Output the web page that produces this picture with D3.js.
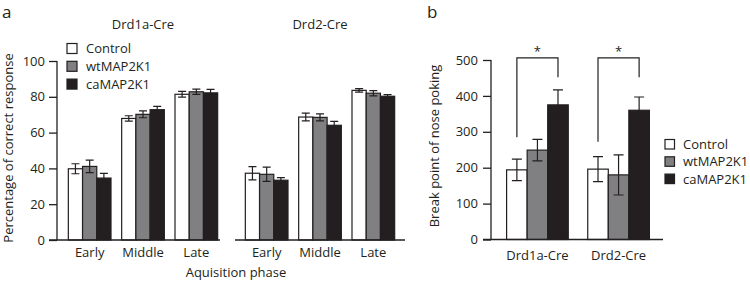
<!DOCTYPE html>
<html>
<head>
<meta charset="utf-8">
<script src="https://cdn.jsdelivr.net/npm/d3@7"></script>
<style>
  body { margin: 0; background: #fff; }
  svg text { font-family: "Open Sans", sans-serif; fill: #231f20; }
</style>
</head>
<body>
<div id="chart"></div>
<script>
// data
const phases = ["Early", "Middle", "Late"];
const groups = ["Control", "wtMAP2K1", "caMAP2K1"];
const drd1aMeans = [[39.8, 41.1, 34.6], [67.9, 70.2, 72.8], [81.4, 82.8, 82.2]];
const drd1aErrs = [[2.8, 3.5, 2.6], [1.5, 1.9, 1.9], [1.6, 1.5, 1.9]];
const drd2Means = [[37.3, 36.7, 33.4], [68.7, 68.5, 64.1], [83.6, 82.0, 80.3]];
const drd2Errs = [[3.7, 4.0, 1.4], [2.2, 2.0, 2.2], [1.0, 1.5, 0.9]];
const yTicksA = [0, 20, 40, 60, 80, 100];

const strains = ["Drd1a-Cre", "Drd2-Cre"];
const breakMeans = [[194, 249, 375], [196, 180, 360]];
const breakErrs = [[30, 30, 42], [35, 56, 37]];
const yTicksB = [0, 100, 200, 300, 400, 500];
// significance brackets: [strain, top, left leg end, right leg end]
const brackets = [["Drd1a-Cre", 506, 285, 452], ["Drd2-Cre", 506, 272, 452]];

const fills = ["#ffffff", "#808083", "#231f20"];
const ink = "#231f20";

const svg = d3.select("#chart").append("svg")
  .attr("width", 750).attr("height", 283);

const color = d3.scaleOrdinal().domain(groups).range(fills);

// ---------- panel a ----------
const yA = d3.scaleLinear().domain([0, 100]).range([240, 61]);
const axisXA = 57;

svg.append("g")
  .attr("transform", "translate(" + axisXA + ",0)")
  .call(d3.axisLeft(yA).tickValues(yTicksA).tickSize(8).tickPadding(4))
  .call(g => {
    g.select(".domain").attr("stroke", ink).attr("stroke-width", 1.3).attr("d", "M0," + yA(100) + "V" + yA(0));
    g.selectAll(".tick line").attr("stroke", ink).attr("stroke-width", 1.3);
    g.selectAll(".tick text").style("font-size", "13px").style("font-family", "Open Sans").attr("fill", ink);
  });

const subPanels = [
  { title: "Drd1a-Cre", means: drd1aMeans, errs: drd1aErrs, range: [63, 223], base: [axisXA - 8, 220] },
  { title: "Drd2-Cre", means: drd2Means, errs: drd2Errs, range: [240, 400], base: [235, 405] }
];

subPanels.forEach(p => {
  const x0 = d3.scaleBand().domain(phases).range(p.range).paddingInner(0.2).paddingOuter(0.1);
  const x1 = d3.scaleBand().domain(groups).range([0, x0.bandwidth()]);
  const g = svg.append("g");

  phases.forEach((ph, i) => {
    groups.forEach((gr, j) => {
      const m = p.means[i][j], e = p.errs[i][j];
      const cx = x0(ph) + x1(gr) + x1.bandwidth() / 2;
      g.append("rect")
        .attr("x", x0(ph) + x1(gr))
        .attr("y", yA(m))
        .attr("width", x1.bandwidth())
        .attr("height", yA(0) - yA(m))
        .attr("fill", color(gr))
        .attr("stroke", ink)
        .attr("stroke-width", 1.2);
      g.append("path")
        .attr("d", "M" + cx + "," + yA(m - e) + "V" + yA(m + e) +
          "M" + (cx - 4) + "," + yA(m + e) + "H" + (cx + 4) +
          "M" + (cx - 4) + "," + yA(m - e) + "H" + (cx + 4))
        .attr("stroke", ink).attr("stroke-width", 1.2).attr("fill", "none");
    });
  });

  g.append("line")
    .attr("x1", p.base[0]).attr("x2", p.base[1])
    .attr("y1", yA(0)).attr("y2", yA(0))
    .attr("stroke", ink).attr("stroke-width", 1.3);

  phases.forEach(ph => {
    g.append("text")
      .attr("x", x0(ph) + x0.bandwidth() / 2)
      .attr("y", 257)
      .attr("text-anchor", "middle")
      .style("font-size", "13px")
      .text(ph);
  });

  g.append("text")
    .attr("x", (p.range[0] + p.range[1]) / 2)
    .attr("y", 29)
    .attr("text-anchor", "middle")
    .style("font-size", "13px")
    .text(p.title);
});

svg.append("text")
  .attr("transform", "translate(13,148) rotate(-90)")
  .attr("text-anchor", "middle")
  .style("font-size", "13px")
  .text("Percentage of correct response");

svg.append("text")
  .attr("x", 236).attr("y", 277)
  .attr("text-anchor", "middle")
  .style("font-size", "13px")
  .text("Aquisition phase");

svg.append("text").attr("x", 2).attr("y", 18).style("font-size", "17px").text("a");

// legend a
groups.forEach((gr, j) => {
  const ly = 43.5 + j * 17.8;
  svg.append("rect")
    .attr("x", 67).attr("y", ly).attr("width", 10).attr("height", 10)
    .attr("fill", color(gr)).attr("stroke", ink).attr("stroke-width", 1.2);
  svg.append("text")
    .attr("x", 86).attr("y", ly + 9.5)
    .style("font-size", "13px")
    .text(gr);
});

// ---------- panel b ----------
const yB = d3.scaleLinear().domain([0, 500]).range([239.5, 60]);
const axisXB = 491;
const xb0 = d3.scaleBand().domain(strains).range([492, 664]).paddingInner(0.24).paddingOuter(0.18);
const xb1 = d3.scaleBand().domain(groups).range([0, xb0.bandwidth()]);

svg.append("g")
  .attr("transform", "translate(" + axisXB + ",0)")
  .call(d3.axisLeft(yB).tickValues(yTicksB).tickSize(8).tickPadding(5))
  .call(g => {
    g.select(".domain").attr("stroke", ink).attr("stroke-width", 1.3).attr("d", "M0," + yB(500) + "V" + yB(0));
    g.selectAll(".tick line").attr("stroke", ink).attr("stroke-width", 1.3);
    g.selectAll(".tick text").style("font-size", "13px").style("font-family", "Open Sans").attr("fill", ink);
  });

strains.forEach((s, i) => {
  groups.forEach((gr, j) => {
    const m = breakMeans[i][j], e = breakErrs[i][j];
    const cx = xb0(s) + xb1(gr) + xb1.bandwidth() / 2;
    svg.append("rect")
      .attr("x", xb0(s) + xb1(gr))
      .attr("y", yB(m))
      .attr("width", xb1.bandwidth())
      .attr("height", yB(0) - yB(m))
      .attr("fill", color(gr))
      .attr("stroke", ink)
      .attr("stroke-width", 1.2);
    svg.append("path")
      .attr("d", "M" + cx + "," + yB(m - e) + "V" + yB(m + e) +
        "M" + (cx - 5) + "," + yB(m + e) + "H" + (cx + 5) +
        "M" + (cx - 5) + "," + yB(m - e) + "H" + (cx + 5))
      .attr("stroke", ink).attr("stroke-width", 1.2).attr("fill", "none");
  });
  svg.append("text")
    .attr("x", xb0(s) + xb0.bandwidth() / 2)
    .attr("y", 260)
    .attr("text-anchor", "middle")
    .style("font-size", "13px")
    .text(s);
});

svg.append("line")
  .attr("x1", axisXB - 8).attr("x2", 663)
  .attr("y1", yB(0)).attr("y2", yB(0))
  .attr("stroke", ink).attr("stroke-width", 1.3);

brackets.forEach(b => {
  const xl = xb0(b[0]) + xb1("Control") + xb1.bandwidth() / 2;
  const xr = xb0(b[0]) + xb1("caMAP2K1") + xb1.bandwidth() / 2;
  svg.append("path")
    .attr("d", "M" + xl + "," + yB(b[2]) + "V" + yB(b[1]) + "H" + xr + "V" + yB(b[3]))
    .attr("fill", "none").attr("stroke", ink).attr("stroke-width", 1.2);
  svg.append("text")
    .attr("x", (xl + xr) / 2).attr("y", yB(b[1]) - 2)
    .attr("text-anchor", "middle")
    .style("font-size", "13px")
    .text("*");
});

svg.append("text")
  .attr("transform", "translate(439,146) rotate(-90)")
  .attr("text-anchor", "middle")
  .style("font-size", "13px")
  .text("Break point of nose poking");

svg.append("text").attr("x", 427).attr("y", 18).style("font-size", "17px").text("b");

// legend b
groups.forEach((gr, j) => {
  const ly = 139.5 + j * 17.3;
  svg.append("rect")
    .attr("x", 665).attr("y", ly).attr("width", 9.5).attr("height", 9.5)
    .attr("fill", color(gr)).attr("stroke", ink).attr("stroke-width", 1.2);
  svg.append("text")
    .attr("x", 683).attr("y", ly + 9.5)
    .style("font-size", "13px")
    .text(gr);
});
</script>
</body>
</html>
